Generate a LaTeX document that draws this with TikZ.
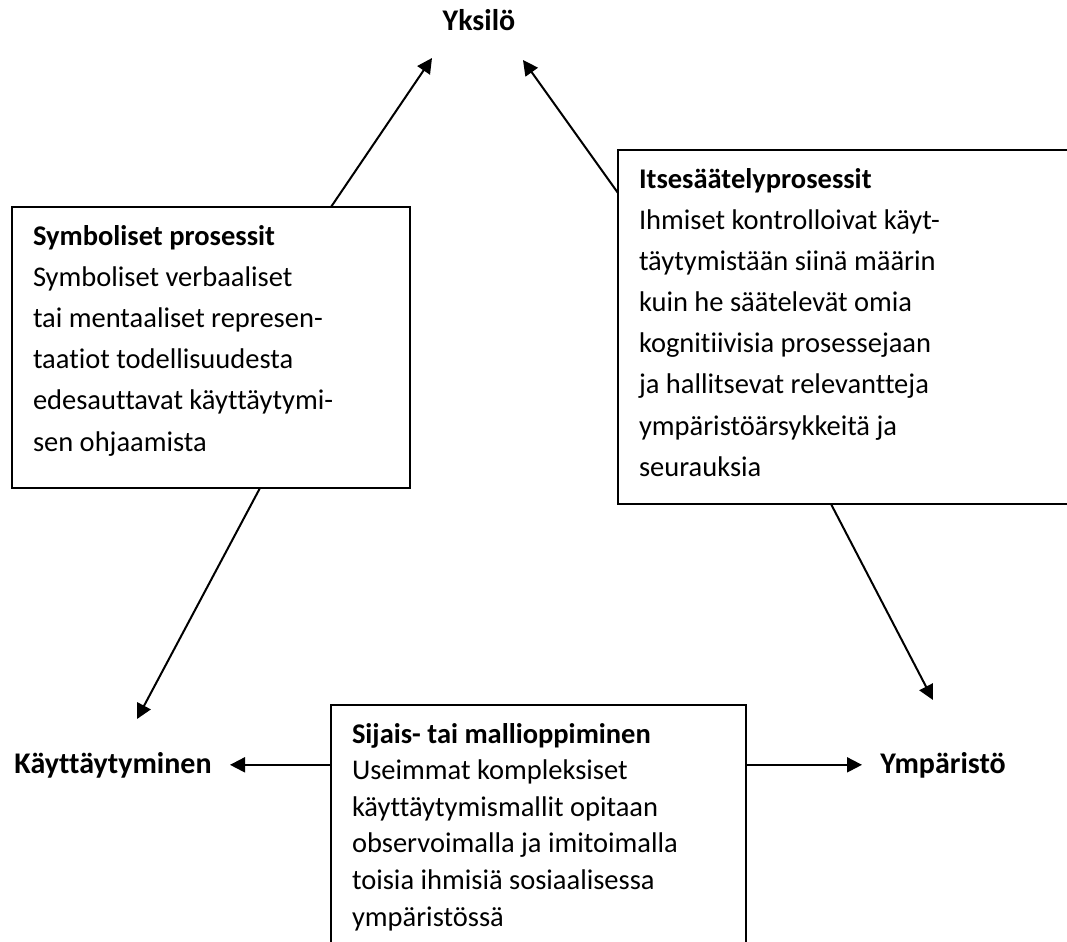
\documentclass[tikz,border=0pt]{standalone}
\usepackage{fontspec}
\setmainfont{Carlito}[Ligatures=NoCommon]
\usetikzlibrary{arrows.meta,calc}

\begin{document}
\begin{tikzpicture}[
                x=0.5pt, y=-0.5pt,
                font=\fontsize{14.25}{20.6}\selectfont,
                procbox/.style={rectangle, draw=black, line width=1.2pt, outer sep=0pt, anchor=north west, align=flush left, inner xsep=10.5pt, inner ysep=0pt, text height=19pt},
                lbl/.style={font=\fontsize{15}{18}\selectfont\bfseries, inner sep=9pt},
                arr/.style={-{Triangle[length=7.5pt, width=7.5pt]}, line width=1pt, black},
            ]
            \useasboundingbox (0,0) rectangle (1067,942);
            \clip (0,0) rectangle (1067,942);

            \node[lbl, anchor=base] (yks) at (479,31) {Yksilö};
            \node[lbl, anchor=base east] (kay) at (230,773) {Käyttäytyminen};
            \node[lbl, anchor=base west] (ymp) at (862,773) {Ympäristö};

            \node[procbox, text width=178pt, text depth=121.5pt] (sym) at (12,207) {\textbf{Symboliset prosessit}\\Symboliset verbaaliset\\tai mentaaliset represen-\\taatiot todellisuudesta\\edesauttavat käyttäytymi-\\sen ohjaamista};
            \node[procbox, text width=230pt, text depth=158pt] (its) at (618,150) {\textbf{Itsesäätelyprosessit}\\Ihmiset kontrolloivat käyt-\\täytymistään siinä määrin\\kuin he säätelevät omia\\kognitiivisia prosessejaan\\ja hallitsevat relevantteja\\ympäristöärsykkeitä ja\\seurauksia};
            \node[procbox, font=\fontsize{14.25}{18.3}\selectfont, text width=186.5pt, text depth=150pt] (mal) at (331,705) {\textbf{Sijais- tai mallioppiminen}\\Useimmat kompleksiset\\käyttäytymismallit opitaan\\observoimalla ja imitoimalla\\toisia ihmisiä sosiaalisessa\\ympäristössä};

            \coordinate (yksL) at (432,58);
            \coordinate (yksR) at (523,60);
            \coordinate (kayT) at (137,719);
            \coordinate (ympT) at (933,700);

            \draw[arr] ($(sym.north west)+(319,0)$) -- (yksL);
            \draw[arr] ($(its.north west)+(0,43)$) -- (yksR);
            \draw[arr] ($(sym.south west)+(248,0)$) -- (kayT);
            \draw[arr] ($(its.south west)+(213,0)$) -- (ympT);
            \draw[arr] (mal.west |- kay.east) -- (kay.east);
            \draw[arr] (mal.east |- ymp.west) -- (ymp.west);
        \end{tikzpicture}
\end{document}
